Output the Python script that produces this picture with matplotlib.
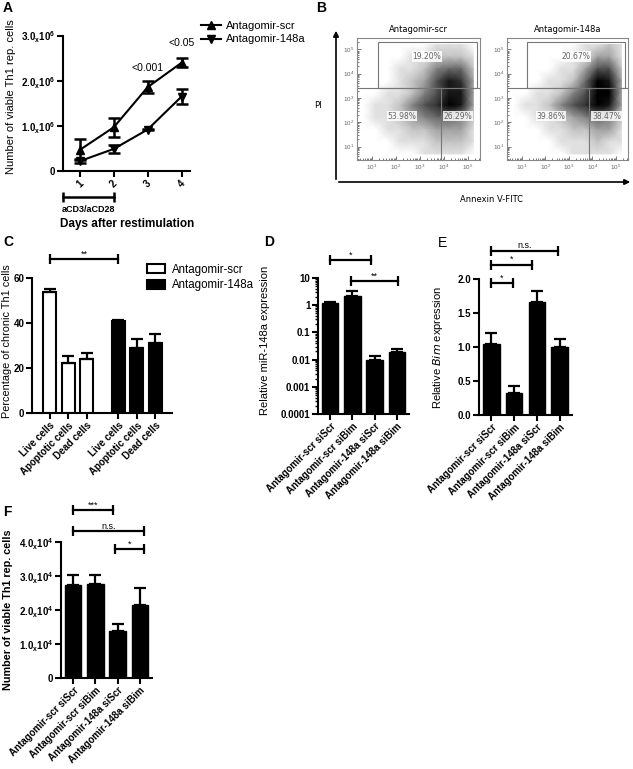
import numpy as np
import matplotlib.pyplot as plt
from matplotlib.patches import Patch, FancyArrowPatch, Rectangle
from matplotlib.lines import Line2D
from matplotlib.colors import PowerNorm
import matplotlib.transforms as mtransforms

plt.rcParams['font.family'] = ['Liberation Sans', 'DejaVu Sans']
plt.rcParams['mathtext.default'] = 'regular'

W, H = 633, 769

# ---- A: viable cells over time ----
days = [1, 2, 3, 4]
a_scr = [0.47e6, 0.97e6, 1.86e6, 2.40e6]
a_scr_err = [0.23e6, 0.21e6, 0.14e6, 0.10e6]
a_148 = [0.22e6, 0.49e6, 0.92e6, 1.65e6]
a_148_err = [0.05e6, 0.08e6, 0.02e6, 0.17e6]
a_pvals = [(3, 2.28e6, '<0.001'), (4, 2.84e6, '<0.05')]
a_yticks = [0, 1e6, 2e6, 3e6]
a_yticklabels = ['0', r'1.0$_{x}$10$^{6}$', r'2.0$_{x}$10$^{6}$', r'3.0$_{x}$10$^{6}$']

# ---- B: flow cytometry (density, rows top -> bottom) ----
b_titles = ['Antagomir-scr', 'Antagomir-148a']
b_xlog = [0.65, 1.16, 1.67, 2.18, 2.69, 3.20, 3.71, 4.22, 4.73, 5.24]
b_ylog = [5.2, 4.7, 4.2, 3.7, 3.2, 2.7, 2.2, 1.7, 1.2, 0.7]
b_dens_scr = [
    [0, 0, 0, 0, 0, 0, 1, 1, 1, 0],
    [0, 0, 0, 0, 1, 1, 2, 2, 2, 1],
    [0, 0, 0, 1, 1, 2, 4, 5, 5, 2],
    [0, 0, 0, 1, 2, 3, 6, 8, 7, 3],
    [0, 0, 1, 1, 2, 4, 6, 8, 8, 3],
    [0, 1, 1, 2, 4, 6, 7, 9, 8, 3],
    [0, 1, 1, 2, 3, 4, 5, 5, 4, 2],
    [0, 0, 1, 1, 2, 2, 3, 3, 3, 1],
    [0, 0, 0, 1, 1, 1, 2, 2, 2, 1],
    [0, 0, 0, 0, 0, 1, 1, 1, 1, 0],
]
b_dens_148 = [
    [0, 0, 0, 0, 0, 0, 1, 1, 2, 1],
    [0, 0, 0, 0, 0, 1, 1, 3, 3, 1],
    [0, 0, 0, 0, 1, 1, 3, 6, 6, 2],
    [0, 0, 0, 1, 1, 2, 5, 9, 8, 3],
    [0, 0, 1, 1, 2, 4, 6, 9, 9, 3],
    [0, 1, 1, 2, 4, 6, 7, 9, 8, 3],
    [0, 0, 1, 1, 2, 3, 4, 5, 4, 2],
    [0, 0, 0, 1, 1, 2, 2, 3, 3, 1],
    [0, 0, 0, 0, 1, 1, 1, 2, 1, 1],
    [0, 0, 0, 0, 0, 1, 1, 1, 1, 0],
]
b_pct_scr = ['19.20%', '53.98%', '26.29%']
b_pct_148 = ['20.67%', '39.86%', '38.47%']
b_gate_y = 10 ** 3.42
b_gate_x = [10 ** 3.9, 10 ** 3.88]
b_gate_box = (10 ** 1.23, 10 ** 5.41, 10 ** 5.32)

# ---- C: cell fractions ----
c_cats = ['Live cells', 'Apoptotic cells', 'Dead cells']
c_scr = [54.0, 22.4, 23.9]
c_scr_err = [1.0, 2.9, 2.6]
c_148 = [41.0, 28.7, 31.0]
c_148_err = [0.4, 4.0, 4.0]

# ---- D, E, F: siRNA experiments ----
groups = ['Antagomir-scr siScr', 'Antagomir-scr siBim',
          'Antagomir-148a siScr', 'Antagomir-148a siBim']
d_vals = [1.2, 2.2, 0.0100, 0.0185]
d_err = [0.15, 1.0, 0.0036, 0.0065]
e_vals = [1.05, 0.33, 1.66, 1.00]
e_err = [0.16, 0.09, 0.17, 0.12]
f_vals = [2.73e4, 2.76e4, 1.37e4, 2.14e4]
f_err = [0.31e4, 0.28e4, 0.21e4, 0.51e4]
f_yticks = [0, 1e4, 2e4, 3e4, 4e4]
f_yticklabels = ['0', r'1.0$_{x}$10$^{4}$', r'2.0$_{x}$10$^{4}$',
                 r'3.0$_{x}$10$^{4}$', r'4.0$_{x}$10$^{4}$']
# significance brackets: (x0, x1, y, label)
d_sig = [(0, 1.85, 44, '*'), (0.95, 3.05, 7.8, '**')]
e_sig = [(0, 2.95, 2.41, 'n.s.'), (0, 1.77, 2.21, '*'), (0, 0.93, 1.94, '*')]
f_sig = [(0, 1.8, 4.93e4, '***'), (0, 3.2, 4.31e4, 'n.s.'), (1.87, 3.2, 3.78e4, '*')]
c_sig = [(0, 3.7, 68.4, '**')]

fig = plt.figure(figsize=(W / 100, H / 100), dpi=100)


def px_axes(left, top, right, bottom):
    return fig.add_axes([left / W, 1 - bottom / H, (right - left) / W, (bottom - top) / H])


def prism(ax, fs=7):
    for s in ['top', 'right']:
        ax.spines[s].set_visible(False)
    for s in ['left', 'bottom']:
        ax.spines[s].set_linewidth(1.5)
    ax.tick_params(width=1.5, length=4, labelsize=fs, pad=1.5)
    ax.tick_params(which='minor', width=1.0, length=2.5)
    for lab in ax.get_xticklabels() + ax.get_yticklabels():
        lab.set_fontweight('bold')


def bracket(ax, x0, x1, y, label):
    ax.plot([x0, x1], [y, y], color='k', lw=1.6, marker='|', ms=7, mew=1.6, clip_on=False)
    ax.annotate(label, ((x0 + x1) / 2, y), xytext=(0, 0.5), textcoords='offset points',
                ha='center', va='bottom', fontsize=6.5, annotation_clip=False)


def label(x, y, s, weight='bold'):
    fig.text(x / W, 1 - y / H, s, fontsize=10, fontweight=weight, va='center', ha='left')


# ================= A =================
ax = px_axes(63, 35.7, 190, 171)
ax.errorbar(days, a_scr, yerr=a_scr_err, fmt='-^', color='k', ms=6, lw=1.5,
            elinewidth=1.8, capsize=4.5, capthick=1.8)
ax.errorbar(days, a_148, yerr=a_148_err, fmt='-v', color='k', ms=6, lw=1.5,
            elinewidth=1.8, capsize=4.5, capthick=1.8)
ax.set_xlim(0.5, 4.25)
ax.set_ylim(0, 3e6)
ax.set_yticks(a_yticks)
ax.set_yticklabels(a_yticklabels)
ax.set_xticks(days)
ax.set_xticklabels([str(d) for d in days], rotation=45)
prism(ax)
ax.set_ylabel('Number of viable Th1 rep. cells', fontsize=8)
ax.yaxis.set_label_coords(-0.37, 0.55)
for x, y, s in a_pvals:
    ax.text(x, y, s, ha='center', va='center', fontsize=7.5)
tr = mtransforms.blended_transform_factory(ax.transData, ax.transAxes)
ax.plot([0.5, 2], [-0.19, -0.19], color='k', lw=1.8, marker='|', ms=7, mew=1.8,
        transform=tr, clip_on=False)
ax.text(1.25, -0.285, 'aCD3/aCD28', transform=tr, ha='center', va='center',
        fontsize=6.5, fontweight='bold')
ax.text(2.4, -0.39, 'Days after restimulation', transform=tr, ha='center', va='center',
        fontsize=8.5, fontweight='bold')
handles = [Line2D([], [], color='k', marker='^', ms=6, lw=1.5),
           Line2D([], [], color='k', marker='v', ms=6, lw=1.5)]
fig.legend(handles, b_titles, loc='upper left', bbox_to_anchor=(195 / W, 1 - 15 / H),
           frameon=False, fontsize=8, handlelength=1.8, labelspacing=0.35,
           handletextpad=0.5, borderpad=0)
label(3, 8, 'A')

# ================= B =================
label(316, 8, 'B')
fig.add_artist(FancyArrowPatch((336 / W, 1 - 182 / H), (336 / W, 1 - 28 / H),
                               transform=fig.transFigure, arrowstyle='-|>',
                               mutation_scale=8, lw=1.2, color='k'))
fig.add_artist(FancyArrowPatch((336 / W, 1 - 182 / H), (633 / W, 1 - 182 / H),
                               transform=fig.transFigure, arrowstyle='-|>',
                               mutation_scale=8, lw=1.2, color='k'))
fig.text(318 / W, 1 - 106 / H, 'PI', fontsize=6, family='DejaVu Sans', ha='center', va='center')
fig.text(492 / W, 1 - 199 / H, 'Annexin V-FITC', fontsize=6, family='DejaVu Sans',
         ha='center', va='center')
xc = 10 ** np.array(b_xlog)
yc = 10 ** np.array(b_ylog)
pct_pos = [(10 ** 3.3, 10 ** 4.7), (10 ** 2.25, 10 ** 2.26), (10 ** 4.6, 10 ** 2.26)]
for i, (dens, pcts, title) in enumerate(zip([b_dens_scr, b_dens_148], [b_pct_scr, b_pct_148], b_titles)):
    box = [(357, 38, 480, 160), (507, 38, 628, 160)][i]
    bx = px_axes(*box)
    bx.set_xscale('log')
    bx.set_yscale('log')
    bx.pcolormesh(xc, yc, np.array(dens, dtype=float), shading='gouraud', cmap='Greys',
                  norm=PowerNorm(gamma=0.7, vmin=0, vmax=9), rasterized=True)
    bx.set_xlim(10 ** 0.37, 10 ** 5.52)
    bx.set_ylim(10 ** 0.45, 10 ** 5.47)
    bx.axhline(b_gate_y, color='#777777', lw=0.8)
    bx.plot([b_gate_x[i], b_gate_x[i]], [10 ** 0.45, b_gate_y], color='#777777', lw=0.8)
    x0, x1, y1 = b_gate_box
    bx.add_patch(Rectangle((x0, b_gate_y), x1 - x0, y1 - b_gate_y, fill=False,
                           ec='#777777', lw=0.8))
    for (px, py), s in zip(pct_pos, pcts):
        bx.text(px, py, s, fontsize=5.5, color='#666666', ha='center', va='center',
                family='DejaVu Sans',
                bbox=dict(boxstyle='square,pad=0.1', fc='white', ec='none', alpha=0.85))
    ticks = [1e1, 1e2, 1e3, 1e4, 1e5]
    bx.set_xticks(ticks)
    bx.set_yticks(ticks)
    bx.tick_params(which='both', direction='in', labelsize=4.5, colors='#666666',
                   width=0.6, pad=2)
    bx.tick_params(which='major', length=3)
    bx.tick_params(which='minor', length=1.5)
    for s in bx.spines.values():
        s.set_color('#888888')
        s.set_linewidth(0.8)
    bx.set_title(title, fontsize=6, family='DejaVu Sans', pad=4)

# ================= C =================
ax = px_axes(32, 278, 172, 413)
xc1 = np.arange(len(c_cats))
xc2 = xc1 + 3.7
ekw = dict(elinewidth=1.6, capsize=4.5, capthick=1.6)
ax.bar(xc1, c_scr, width=0.7, color='white', edgecolor='k', lw=1.5,
       yerr=[np.zeros(3), c_scr_err], error_kw=ekw, label='Antagomir-scr')
ax.bar(xc2, c_148, width=0.7, color='k', edgecolor='k', lw=1.5,
       yerr=[np.zeros(3), c_148_err], error_kw=ekw, label='Antagomir-148a')
ax.set_xlim(-0.97, 6.6)
ax.set_ylim(0, 60)
ax.set_yticks([0, 20, 40, 60])
ax.set_xticks(list(xc1) + list(xc2))
ax.set_xticklabels(c_cats * 2, rotation=45, ha='right', rotation_mode='anchor')
prism(ax)
ax.set_ylabel('Percentage of chronic Th1 cells', fontsize=7.8)
ax.yaxis.set_label_coords(-0.14, 0.53)
for x0, x1, y, s in c_sig:
    bracket(ax, x0, x1, y, s)
fig.legend([Patch(fc='white', ec='k', lw=1.5), Patch(fc='k', ec='k', lw=1.5)], b_titles,
           loc='upper left', bbox_to_anchor=(141 / W, 1 - 258 / H), frameon=False,
           fontsize=8.3, handlelength=1.6, handleheight=0.8, labelspacing=0.3,
           handletextpad=0.6, borderpad=0)
label(3, 242, 'C')

# ================= D / E / F =================
xg = np.arange(len(groups))


def group_bars(ax, vals, errs, log=False):
    ax.bar(xg, vals, width=0.73, color='k', edgecolor='k', log=log,
           yerr=[np.zeros(len(vals)), errs], error_kw=ekw)
    ax.set_xlim(-0.55, 3.55)
    ax.set_xticks(xg)
    ax.set_xticklabels(groups, rotation=45, ha='right', rotation_mode='anchor')


ax = px_axes(318, 278, 409, 414)
group_bars(ax, d_vals, d_err, log=True)
ax.set_ylim(1e-4, 10)
ax.set_yticks([1e-4, 1e-3, 1e-2, 1e-1, 1, 10])
ax.set_yticklabels(['0.0001', '0.001', '0.01', '0.1', '1', '10'])
prism(ax)
ax.set_ylabel('Relative miR-148a expression', fontsize=8)
ax.yaxis.set_label_coords(-0.53, 0.54)
for x0, x1, y, s in d_sig:
    bracket(ax, x0, x1, y, s)
label(264, 242, 'D')

ax = px_axes(479, 279, 572, 415)
group_bars(ax, e_vals, e_err)
ax.set_ylim(0, 2)
ax.set_yticks([0, 0.5, 1.0, 1.5, 2.0])
ax.set_yticklabels(['0.0', '0.5', '1.0', '1.5', '2.0'])
prism(ax)
ax.set_ylabel(r'Relative $\mathit{Bim}$ expression', fontsize=8)
ax.yaxis.set_label_coords(-0.37, 0.5)
for x0, x1, y, s in e_sig:
    bracket(ax, x0, x1, y, s)
label(438, 243, 'E', weight='normal')

ax = px_axes(61, 542, 152, 678)
group_bars(ax, f_vals, f_err)
ax.set_ylim(0, 4e4)
ax.set_yticks(f_yticks)
ax.set_yticklabels(f_yticklabels)
prism(ax)
ax.set_ylabel('Number of viable Th1 rep. cells', fontsize=7.8, fontweight='bold')
ax.yaxis.set_label_coords(-0.53, 0.5)
for x0, x1, y, s in f_sig:
    bracket(ax, x0, x1, y, s)
label(3, 512, 'F')

fig.savefig('out.png', dpi=100, facecolor='white')
